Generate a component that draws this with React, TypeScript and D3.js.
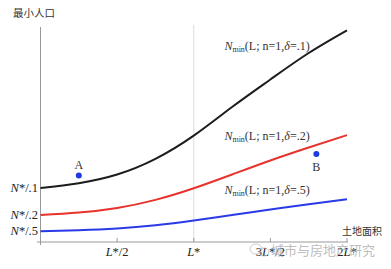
import React from "react";
import * as d3 from "d3";

const xs = [0, 0.25, 0.5, 0.75, 1, 1.25, 1.5, 1.75, 2];
const blackVals = [10, 10.9, 12.5, 15.4, 19.7, 25, 30.1, 35, 39.2];
const redVals = [5, 5.45, 6.3, 7.8, 9.95, 12.5, 15.1, 17.5, 19.8];
const blueVals = [2, 2.18, 2.5, 3.1, 3.98, 5, 6, 7, 7.9];
const deltaLabels = [".1", ".2", ".5"];
const labelV = [35.55, 18.9, 8.9];
const yTickVals = [10, 5, 2];
const yTickLabels = ["/.1", "/.2", "/.5"];
const xTickVals = [0.5, 1, 1.5, 2];
const xTickPre = ["", "", "3", "2"];
const xTickPost = ["/2", "", "/2", ""];
const points = [
  { name: "A", x: 0.25, v: 12.3 },
  { name: "B", x: 1.8, v: 16.3 },
];

const W = 391, H = 269;
const SERIF = "Liberation Serif, DejaVu Serif, serif";
const SANS = "Noto Sans CJK SC, sans-serif";

export default function App() {
  const x = d3.scaleLinear().domain([0, 2]).range([40.5, 347]);
  const y = d3.scaleLinear().domain([0, 40]).range([242, 26]);
  const line = d3
    .line<number>()
    .x((_, i) => x(xs[i]))
    .y((d) => y(d))
    .curve(d3.curveNatural);
  const series = [
    { vals: blackVals, color: "#1c1c1c" },
    { vals: redVals, color: "#e8322c" },
    { vals: blueVals, color: "#2a3ae6" },
  ];
  const serif = { fontFamily: SERIF };
  return (
    <svg width={W} height={H} style={{ position: "absolute", left: 0, top: 0, background: "#fff" }}>
      <line x1={x(1)} x2={x(1)} y1={25} y2={y(0)} stroke="#dcdcdc" strokeWidth={1} />
      <line x1={x(0)} x2={x(0)} y1={27} y2={245} stroke="#999" strokeWidth={1} />
      <line x1={37} x2={x(2) + 1} y1={y(0)} y2={y(0)} stroke="#999" strokeWidth={1} />
      {xTickVals.map((t, i) => (
        <g key={i}>
          <line x1={x(t)} x2={x(t)} y1={y(0) - 4} y2={y(0)} stroke="#999" />
          <text x={x(t)} y={256} textAnchor="middle" style={serif} fontSize={12.5} fill="#222">
            {xTickPre[i]}
            <tspan fontStyle="italic">L</tspan>*{xTickPost[i]}
          </text>
        </g>
      ))}
      {yTickVals.map((t, i) => (
        <text key={i} x={38} y={y(t) + 4} textAnchor="end" style={serif} fontSize={12.5} fill="#222">
          <tspan fontStyle="italic">N</tspan>*{yTickLabels[i]}
        </text>
      ))}
      {series.map((s, i) => (
        <path key={i} d={line(s.vals) || ""} fill="none" stroke={s.color} strokeWidth={2} />
      ))}
      {series.map((s, i) => (
        <text key={"l" + i} x={x(1.2)} y={y(labelV[i])} style={serif} fontSize={12} fill="#333">
          <tspan fontStyle="italic">N</tspan>
          <tspan fontSize={8} dy={2}>min</tspan>
          <tspan dy={-2}>(L; n=1,</tspan>
          <tspan fontStyle="italic">δ</tspan>
          <tspan>={deltaLabels[i]})</tspan>
        </text>
      ))}
      {points.map((p) => (
        <g key={p.name}>
          <circle cx={x(p.x)} cy={y(p.v)} r={3} fill="#1f3ae0" />
          <text x={x(p.x)} y={y(p.v) + (p.name === "A" ? -6.5 : 17)} textAnchor="middle" style={serif} fontSize={12} fill="#333">
            {p.name}
          </text>
        </g>
      ))}
      <text x={13} y={16.5} style={{ fontFamily: SANS }} fontSize={10.5} fill="#333">最小人口</text>
      <text x={342} y={235} style={{ fontFamily: SANS }} fontSize={10} fill="#333">土地面积</text>
      <g opacity={0.75}>
        <ellipse cx={256} cy={249} rx={6} ry={5} fill="none" stroke="#bbb" strokeWidth={1} />
        <ellipse cx={264} cy={252} rx={5} ry={4} fill="none" stroke="#bbb" strokeWidth={1} />
        <text x={271} y={255} style={{ fontFamily: SANS }} fontSize={13} fill="#aaa">城市与房地产研究</text>
      </g>
    </svg>
  );
}
